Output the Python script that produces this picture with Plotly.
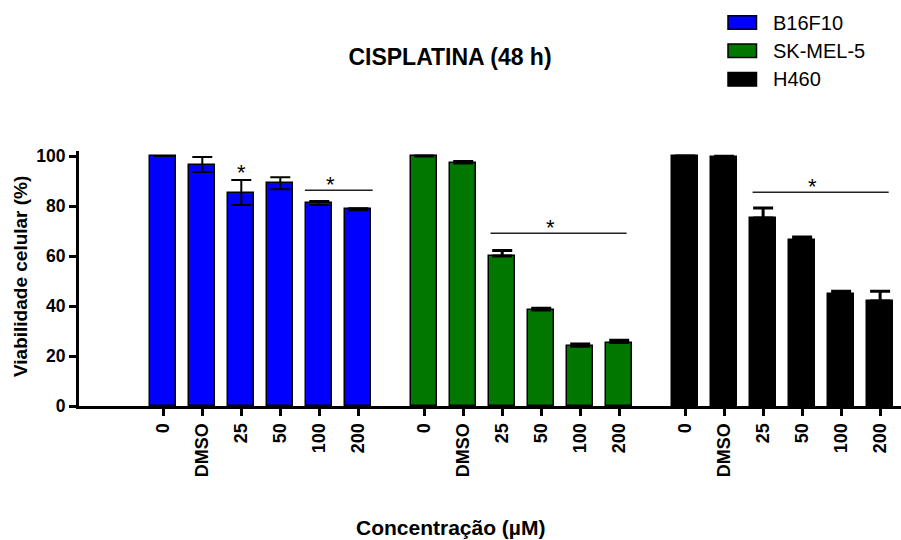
import plotly.graph_objects as go

# Cell lines, concentration labels and mean viability (%) with SEM
cell_lines = ["B16F10", "SK-MEL-5", "H460"]
concentrations = ["0", "DMSO", "25", "50", "100", "200"]
viability_b16f10 = [100, 96.6, 85.4, 89.1, 81.2, 78.7]
viability_skmel5 = [100, 97.2, 60.0, 38.4, 23.9, 25.4]
viability_h460 = [100, 99.6, 75.2, 66.5, 44.8, 42.0]
sem_b16f10 = [0, 3.0, 5.0, 2.4, 0.8, 0.4]
sem_skmel5 = [0, 0.6, 2.2, 0.7, 0.9, 0.9]
sem_h460 = [0, 0.3, 4.0, 1.1, 1.1, 3.9]
colors = ["#0000FF", "#007800", "#000000"]

# Significance brackets: (group, first bar, last bar, level)
sig_group = [0, 1, 2]
sig_first = [4, 2, 2]
sig_last = [5, 5, 5]
sig_level = [86.3, 69.1, 85.5]
# single asterisk over B16F10 25 µM
single_sig_group = [0]
single_sig_bar = [2]
single_sig_level = [93.6]

values = [viability_b16f10, viability_skmel5, viability_h460]
errors = [sem_b16f10, sem_skmel5, sem_h460]

GROUP_STEP = 6.69
FONT = "Arial, Liberation Sans, sans-serif"

W, H = 901, 540
ML, MR, MT, MB = 79, 0, 151, 134
PW, PH = W - ML - MR, H - MT - MB


def xpos(g, i):
    return g * GROUP_STEP + i


def px_x(px):
    return (px - ML) / PW


def px_y(py):
    return (H - MB - py) / PH


fig = go.Figure()

for g, name in enumerate(cell_lines):
    n = len(values[g])
    upper_only = g > 0
    fig.add_trace(go.Bar(
        x=[xpos(g, i) for i in range(n)],
        y=values[g],
        width=0.67,
        name=name,
        marker=dict(color=colors[g], line=dict(color="black", width=1.5)),
        error_y=dict(
            type="data",
            array=errors[g],
            arrayminus=[0] * n if upper_only else errors[g],
            symmetric=not upper_only,
            color="black",
            thickness=3 if upper_only else 2,
            width=10,
        ),
        showlegend=False,
    ))

tickvals, ticktext = [], []
for g in range(len(cell_lines)):
    for i, c in enumerate(concentrations):
        tickvals.append(xpos(g, i))
        ticktext.append(c)

shapes = []
annotations = []
overhang_l = [0.37, 0.30, 0.27]
overhang_r = [0.37, 0.19, 0.22]
for k in range(len(sig_group)):
    g = sig_group[k]
    x0 = xpos(g, sig_first[k]) - overhang_l[k]
    x1 = xpos(g, sig_last[k]) + overhang_r[k]
    shapes.append(dict(type="line", xref="x", yref="y", x0=x0, x1=x1,
                       y0=sig_level[k], y1=sig_level[k],
                       line=dict(color="#222222", width=1.3)))
    annotations.append(dict(x=(x0 + x1) / 2, y=sig_level[k], xref="x", yref="y",
                            text="*", showarrow=False, xshift=-8, yshift=-9,
                            yanchor="bottom",
                            font=dict(family=FONT, size=22, color="black")))
for k in range(len(single_sig_group)):
    annotations.append(dict(x=xpos(single_sig_group[k], single_sig_bar[k]),
                            y=single_sig_level[k], xref="x", yref="y",
                            text="*", showarrow=False, yanchor="middle",
                            font=dict(family=FONT, size=22, color="black")))

# legend drawn as swatches + labels
legend_rows = [22.5, 50.8, 79.3]
for g, name in enumerate(cell_lines):
    cy = legend_rows[g]
    shapes.append(dict(type="rect", xref="paper", yref="paper",
                       x0=px_x(728), x1=px_x(756.5),
                       y0=px_y(cy + 6.8), y1=px_y(cy - 6.8),
                       fillcolor=colors[g], line=dict(color="black", width=1.5)))
    annotations.append(dict(x=px_x(771), y=px_y(cy), xref="paper", yref="paper",
                            text=name, showarrow=False, xanchor="left",
                            yanchor="middle",
                            font=dict(family=FONT, size=20, color="black")))

# axis titles
annotations.append(dict(x=px_x(450), y=px_y(527), xref="paper", yref="paper",
                        text="<b>Concentração (µM)</b>", showarrow=False,
                        xanchor="center", yanchor="middle",
                        font=dict(family=FONT, size=21, color="black")))
annotations.append(dict(x=px_x(20), y=px_y(277), xref="paper", yref="paper",
                        text="<b>Viabilidade celular (%)</b>", showarrow=False,
                        textangle=-90, xanchor="center", yanchor="middle",
                        font=dict(family=FONT, size=19, color="black")))

fig.update_layout(
    width=W, height=H,
    margin=dict(l=ML, r=MR, t=MT, b=MB, pad=0),
    paper_bgcolor="white", plot_bgcolor="white",
    title=dict(text="<b>CISPLATINA (48 h)</b>", x=450 / W, y=1 - 57 / H,
               xanchor="center", yanchor="middle",
               font=dict(family=FONT, size=23, color="black")),
    xaxis=dict(range=[-(163.3 - ML) / 39, -(163.3 - ML) / 39 + PW / 39],
               tickvals=tickvals, ticktext=ticktext, tickangle=-90,
               ticks="outside", ticklen=7, tickwidth=3, tickcolor="black",
               showline=True, linecolor="black", linewidth=3,
               showgrid=False, zeroline=False,
               tickfont=dict(family=FONT, size=18, color="black", weight="bold")),
    yaxis=dict(range=[0, 102], tickvals=[0, 20, 40, 60, 80, 100],
               ticks="outside", ticklen=7, tickwidth=3, tickcolor="black",
               showline=True, linecolor="black", linewidth=3,
               showgrid=False, zeroline=False,
               tickfont=dict(family=FONT, size=17.5, color="black", weight="bold")),
    shapes=shapes,
    annotations=annotations,
    bargap=0,
)

fig.write_html("out.html")
